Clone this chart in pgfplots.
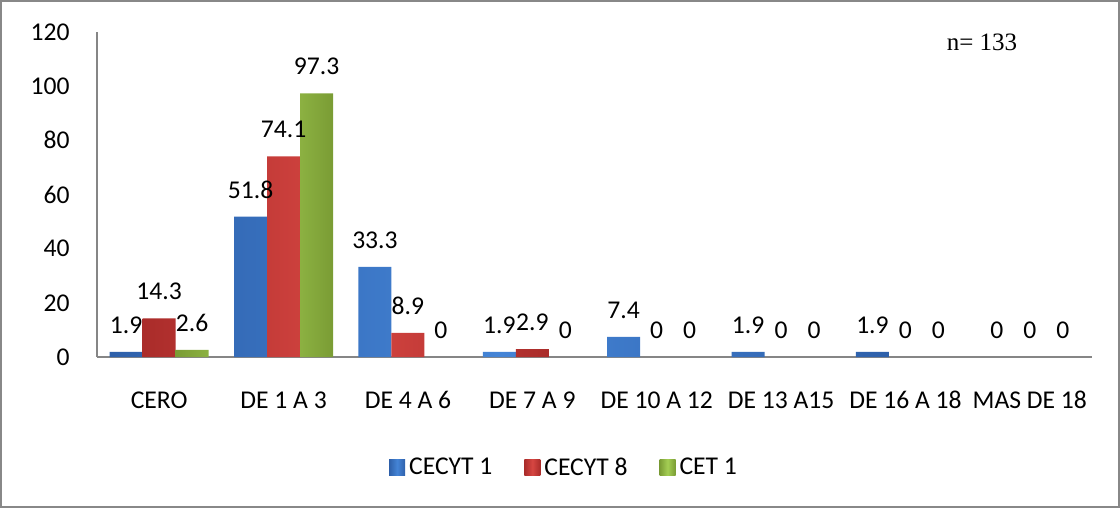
\documentclass[border=0pt]{standalone}
\usepackage{fontspec}
\setmainfont{Carlito}
\newfontfamily\timesf{Liberation Serif}
\usepackage{pgfplots}
\pgfplotsset{compat=1.18}
\definecolor{framegray}{RGB}{136,136,136}
\definecolor{axisgray}{RGB}{134,134,134}
\definecolor{blueE}{RGB}{46,96,170}
\definecolor{blueM}{RGB}{68,132,214}
\definecolor{redE}{RGB}{170,44,42}
\definecolor{redM}{RGB}{214,70,66}
\definecolor{greenE}{RGB}{122,156,52}
\definecolor{greenM}{RGB}{164,206,84}
\newcommand\lbl{\fontsize{12.8bp}{15bp}\selectfont}
\begin{document}
\begin{tikzpicture}[x=1bp,y=1bp]
\useasboundingbox (0,0) rectangle (560,254);
\draw[line width=1bp, color=framegray] (0.5,0.5) rectangle (559.5,253.5);
\begin{axis}[
  at={(48.5bp,75.5bp)}, anchor=south west,
  scale only axis, width=497.5bp, height=162.5bp,
  xmin=-0.5, xmax=7.5, ymin=0, ymax=120,
  ytick={0,20,...,120},
  xtick={0,...,7},
  xticklabels={CERO,DE 1 A 3,DE 4 A 6,DE 7 A 9,DE 10 A 12,DE 13 A15,DE 16 A 18,MAS DE 18},
  axis x line=bottom, axis y line=left,
  axis line style={-, draw=axisgray, line width=0.7bp},
  major tick length=0pt,
  /pgf/number format/assume math mode=true,
  ticklabel style={font=\lbl},
  xticklabel style={anchor=base, inner sep=0pt, yshift=-25.5bp},
  yticklabel style={anchor=east, inner sep=0pt, xshift=-13.5bp},
  ybar, bar width=16.5bp,
  clip=false,
  nodes near coords={\pgfmathprintnumber[fixed,precision=1]{\pgfplotspointmeta}},
  every node near coord/.append style={font=\lbl, inner sep=0pt, anchor=south, yshift=9bp, text=black},
  legend style={at={(0.4704,-0.3415)}, anchor=center, draw=none, fill=none,
    font=\lbl, legend columns=-1,
    /tikz/every even column/.append style={column sep=14bp}},
  mylegend/.style={legend image code/.code={\path[##1, draw=none] (0bp,-4bp) rectangle (8bp,4bp);}},
]
\addplot[bar shift=-16.5bp, draw=none, left color=blueE, right color=blueE, middle color=blueM, mylegend]
  coordinates {(0,1.9) (1,51.8) (2,33.3) (3,1.9) (4,7.4) (5,1.9) (6,1.9)};
\addlegendentry{CECYT 1}
\addplot[bar shift=0bp, draw=none, left color=redE, right color=redE, middle color=redM, mylegend]
  coordinates {(0,14.3) (1,74.1) (2,8.9) (3,2.9)};
\addlegendentry{CECYT 8}
\addplot[bar shift=16.5bp, draw=none, left color=greenE, right color=greenE, middle color=greenM, mylegend]
  coordinates {(0,2.6) (1,97.3)};
\addlegendentry{CET 1}
% zero values (labels only)
\addplot[forget plot, bar shift=-16.5bp, draw=none, fill=none]
  coordinates {(7,0)};
\addplot[forget plot, bar shift=0bp, draw=none, fill=none]
  coordinates {(4,0) (5,0) (6,0) (7,0)};
\addplot[forget plot, bar shift=16.5bp, draw=none, fill=none]
  coordinates {(2,0) (3,0) (4,0) (5,0) (6,0) (7,0)};
\end{axis}
\node[font=\timesf\fontsize{12.5bp}{14bp}\selectfont] at (491,233) {n= 133};
\end{tikzpicture}
\end{document}
